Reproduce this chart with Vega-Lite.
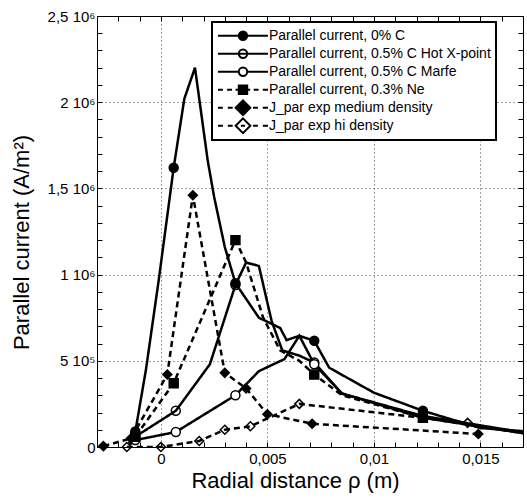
{
  "$schema": "https://vega.github.io/schema/vega-lite/v6.json",
  "width": 426,
  "height": 431,
  "autosize": "none",
  "padding": {"left": 97, "top": 16, "right": 4, "bottom": 54},
  "background": "white",
  "config": {
    "font": "Liberation Sans",
    "view": {"stroke": "black", "strokeWidth": 1},
    "axis": {
      "domainColor": "black",
      "tickColor": "black",
      "labelColor": "black",
      "titleColor": "black",
      "labelFont": "Liberation Sans",
      "titleFont": "Liberation Sans",
      "labelFontSize": 15,
      "titleFontSize": 22,
      "titleFontWeight": "normal",
      "tickSize": -5,
      "gridColor": "#444",
      "gridDash": [1, 3],
      "gridWidth": 1
    },
    "legend": {
      "orient": "none",
      "legendX": 115,
      "legendY": 6,
      "padding": 5,
      "strokeColor": "black",
      "fillColor": "white",
      "strokeWidth": 2,
      "labelFont": "Liberation Sans",
      "labelFontSize": 14,
      "labelColor": "black",
      "symbolSize": 196,
      "labelOffset": 36,
      "rowPadding": 0,
      "clipHeight": 17.5,
      "symbolStrokeColor": "black",
      "symbolStrokeWidth": 2,
      "symbolOpacity": 1,
      "labelLimit": 400
    }
  },
  "datasets": {
    "curves": [
      {"series": "Parallel current, 0% C", "x": -0.0015, "y": 30000},
      {"series": "Parallel current, 0% C", "x": -0.0012, "y": 90000},
      {"series": "Parallel current, 0% C", "x": -0.0007, "y": 450000},
      {"series": "Parallel current, 0% C", "x": -0.0001, "y": 970000},
      {"series": "Parallel current, 0% C", "x": 0.0006, "y": 1620000},
      {"series": "Parallel current, 0% C", "x": 0.0011, "y": 2020000},
      {"series": "Parallel current, 0% C", "x": 0.0016, "y": 2200000},
      {"series": "Parallel current, 0% C", "x": 0.0022, "y": 1660000},
      {"series": "Parallel current, 0% C", "x": 0.0025, "y": 1450000},
      {"series": "Parallel current, 0% C", "x": 0.003, "y": 1160000},
      {"series": "Parallel current, 0% C", "x": 0.0035, "y": 950000},
      {"series": "Parallel current, 0% C", "x": 0.0046, "y": 750000},
      {"series": "Parallel current, 0% C", "x": 0.0056, "y": 690000},
      {"series": "Parallel current, 0% C", "x": 0.0059, "y": 620000},
      {"series": "Parallel current, 0% C", "x": 0.0065, "y": 645000},
      {"series": "Parallel current, 0% C", "x": 0.0072, "y": 616000},
      {"series": "Parallel current, 0% C", "x": 0.0079, "y": 460000},
      {"series": "Parallel current, 0% C", "x": 0.01, "y": 315000},
      {"series": "Parallel current, 0% C", "x": 0.0123, "y": 210000},
      {"series": "Parallel current, 0% C", "x": 0.015, "y": 110000},
      {"series": "Parallel current, 0% C", "x": 0.017, "y": 92000},
      {"series": "Parallel current, 0.5% C Hot X-point", "x": -0.0015, "y": 20000},
      {"series": "Parallel current, 0.5% C Hot X-point", "x": -0.0012, "y": 60000},
      {"series": "Parallel current, 0.5% C Hot X-point", "x": 0.0007, "y": 210000},
      {"series": "Parallel current, 0.5% C Hot X-point", "x": 0.0023, "y": 480000},
      {"series": "Parallel current, 0.5% C Hot X-point", "x": 0.0035, "y": 940000},
      {"series": "Parallel current, 0.5% C Hot X-point", "x": 0.004, "y": 1070000},
      {"series": "Parallel current, 0.5% C Hot X-point", "x": 0.0046, "y": 1050000},
      {"series": "Parallel current, 0.5% C Hot X-point", "x": 0.0052, "y": 730000},
      {"series": "Parallel current, 0.5% C Hot X-point", "x": 0.0057, "y": 560000},
      {"series": "Parallel current, 0.5% C Hot X-point", "x": 0.0065, "y": 530000},
      {"series": "Parallel current, 0.5% C Hot X-point", "x": 0.0072, "y": 490000},
      {"series": "Parallel current, 0.5% C Hot X-point", "x": 0.0085, "y": 310000},
      {"series": "Parallel current, 0.5% C Hot X-point", "x": 0.0123, "y": 180000},
      {"series": "Parallel current, 0.5% C Hot X-point", "x": 0.017, "y": 85000},
      {"series": "Parallel current, 0.5% C Marfe", "x": -0.0015, "y": 10000},
      {"series": "Parallel current, 0.5% C Marfe", "x": -0.0012, "y": 40000},
      {"series": "Parallel current, 0.5% C Marfe", "x": 0.0007, "y": 87000},
      {"series": "Parallel current, 0.5% C Marfe", "x": 0.0035, "y": 300000},
      {"series": "Parallel current, 0.5% C Marfe", "x": 0.0046, "y": 440000},
      {"series": "Parallel current, 0.5% C Marfe", "x": 0.0058, "y": 510000},
      {"series": "Parallel current, 0.5% C Marfe", "x": 0.0065, "y": 645000},
      {"series": "Parallel current, 0.5% C Marfe", "x": 0.0072, "y": 480000},
      {"series": "Parallel current, 0.5% C Marfe", "x": 0.0085, "y": 310000},
      {"series": "Parallel current, 0.5% C Marfe", "x": 0.0123, "y": 170000},
      {"series": "Parallel current, 0.5% C Marfe", "x": 0.017, "y": 80000},
      {"series": "Parallel current, 0.3% Ne", "x": -0.0015, "y": 20000},
      {"series": "Parallel current, 0.3% Ne", "x": -0.0012, "y": 60000},
      {"series": "Parallel current, 0.3% Ne", "x": 0.0006, "y": 370000},
      {"series": "Parallel current, 0.3% Ne", "x": 0.0035, "y": 1200000},
      {"series": "Parallel current, 0.3% Ne", "x": 0.004, "y": 1070000},
      {"series": "Parallel current, 0.3% Ne", "x": 0.0048, "y": 750000},
      {"series": "Parallel current, 0.3% Ne", "x": 0.0056, "y": 560000},
      {"series": "Parallel current, 0.3% Ne", "x": 0.0065, "y": 500000},
      {"series": "Parallel current, 0.3% Ne", "x": 0.0072, "y": 420000},
      {"series": "Parallel current, 0.3% Ne", "x": 0.0085, "y": 300000},
      {"series": "Parallel current, 0.3% Ne", "x": 0.0123, "y": 170000},
      {"series": "Parallel current, 0.3% Ne", "x": 0.017, "y": 80000},
      {"series": "J_par exp medium density", "x": -0.0027, "y": 5000},
      {"series": "J_par exp medium density", "x": -0.0014, "y": 50000},
      {"series": "J_par exp medium density", "x": 0.0003, "y": 420000},
      {"series": "J_par exp medium density", "x": 0.0015, "y": 1460000},
      {"series": "J_par exp medium density", "x": 0.003, "y": 430000},
      {"series": "J_par exp medium density", "x": 0.004, "y": 340000},
      {"series": "J_par exp medium density", "x": 0.005, "y": 190000},
      {"series": "J_par exp medium density", "x": 0.0071, "y": 135000},
      {"series": "J_par exp medium density", "x": 0.0149, "y": 75000},
      {"series": "J_par exp hi density", "x": -0.0016, "y": 0},
      {"series": "J_par exp hi density", "x": 0.0, "y": 0},
      {"series": "J_par exp hi density", "x": 0.0018, "y": 35000},
      {"series": "J_par exp hi density", "x": 0.003, "y": 100000},
      {"series": "J_par exp hi density", "x": 0.0042, "y": 120000},
      {"series": "J_par exp hi density", "x": 0.0065, "y": 250000},
      {"series": "J_par exp hi density", "x": 0.0144, "y": 140000}
    ],
    "markers": [
      {"series": "Parallel current, 0% C", "x": -0.0012, "y": 90000},
      {"series": "Parallel current, 0% C", "x": 0.0006, "y": 1620000},
      {"series": "Parallel current, 0% C", "x": 0.0035, "y": 950000},
      {"series": "Parallel current, 0% C", "x": 0.0072, "y": 616000},
      {"series": "Parallel current, 0% C", "x": 0.0123, "y": 210000},
      {"series": "Parallel current, 0.5% C Hot X-point", "x": -0.0012, "y": 60000},
      {"series": "Parallel current, 0.5% C Hot X-point", "x": 0.0007, "y": 210000},
      {"series": "Parallel current, 0.5% C Hot X-point", "x": 0.0035, "y": 940000},
      {"series": "Parallel current, 0.5% C Hot X-point", "x": 0.0072, "y": 490000},
      {"series": "Parallel current, 0.5% C Hot X-point", "x": 0.0123, "y": 180000},
      {"series": "Parallel current, 0.5% C Marfe", "x": -0.0012, "y": 40000},
      {"series": "Parallel current, 0.5% C Marfe", "x": 0.0007, "y": 87000},
      {"series": "Parallel current, 0.5% C Marfe", "x": 0.0035, "y": 300000},
      {"series": "Parallel current, 0.5% C Marfe", "x": 0.0072, "y": 480000},
      {"series": "Parallel current, 0.5% C Marfe", "x": 0.0123, "y": 170000},
      {"series": "Parallel current, 0.3% Ne", "x": -0.0012, "y": 60000},
      {"series": "Parallel current, 0.3% Ne", "x": 0.0006, "y": 370000},
      {"series": "Parallel current, 0.3% Ne", "x": 0.0035, "y": 1200000},
      {"series": "Parallel current, 0.3% Ne", "x": 0.0072, "y": 420000},
      {"series": "Parallel current, 0.3% Ne", "x": 0.0123, "y": 170000},
      {"series": "J_par exp medium density", "x": -0.0027, "y": 5000},
      {"series": "J_par exp medium density", "x": -0.0014, "y": 50000},
      {"series": "J_par exp medium density", "x": 0.0003, "y": 420000},
      {"series": "J_par exp medium density", "x": 0.0015, "y": 1460000},
      {"series": "J_par exp medium density", "x": 0.003, "y": 430000},
      {"series": "J_par exp medium density", "x": 0.004, "y": 340000},
      {"series": "J_par exp medium density", "x": 0.005, "y": 190000},
      {"series": "J_par exp medium density", "x": 0.0071, "y": 135000},
      {"series": "J_par exp medium density", "x": 0.0149, "y": 75000},
      {"series": "J_par exp hi density", "x": -0.0016, "y": 0},
      {"series": "J_par exp hi density", "x": 0.0, "y": 0},
      {"series": "J_par exp hi density", "x": 0.0018, "y": 35000},
      {"series": "J_par exp hi density", "x": 0.003, "y": 100000},
      {"series": "J_par exp hi density", "x": 0.0042, "y": 120000},
      {"series": "J_par exp hi density", "x": 0.0065, "y": 250000},
      {"series": "J_par exp hi density", "x": 0.0144, "y": 140000}
    ]
  },
  "layer": [
    {
      "data": {"name": "curves"},
      "mark": {"type": "line", "color": "black", "strokeWidth": 2.5, "clip": true},
      "encoding": {
        "x": {
          "field": "x", "type": "quantitative",
          "scale": {"domain": [-0.003, 0.017], "nice": false, "zero": false},
          "axis": {
            "orient": "bottom",
            "title": "Radial distance ρ (m)",
            "titlePadding": 4,
            "titleX": 198,
            "values": [-0.003, -0.002, -0.001, 0, 0.001, 0.002, 0.003, 0.004, 0.005, 0.006, 0.007, 0.008, 0.009, 0.01, 0.011, 0.012, 0.013, 0.014, 0.015, 0.016, 0.017],
            "labelExpr": "datum.value == 0 ? '0' : datum.value == 0.005 ? '0,005' : datum.value == 0.01 ? '0,01' : datum.value == 0.015 ? '0,015' : ''",
            "labelOverlap": false,
            "labelPadding": 9,
            "grid": true,
            "gridOpacity": {"condition": {"test": "abs(datum.value*200 - round(datum.value*200)) < 0.001", "value": 1}, "value": 0}
          }
        },
        "y": {
          "field": "y", "type": "quantitative",
          "scale": {"domain": [0, 2500000], "nice": false},
          "axis": {
            "orient": "left",
            "title": "Parallel current (A/m²)",
            "titleX": -64,
            "titleY": 226,
            "titleBaseline": "bottom",
            "titleAngle": 270,
            "values": [0, 100000, 200000, 300000, 400000, 500000, 600000, 700000, 800000, 900000, 1000000, 1100000, 1200000, 1300000, 1400000, 1500000, 1600000, 1700000, 1800000, 1900000, 2000000, 2100000, 2200000, 2300000, 2400000, 2500000],
            "labelExpr": "datum.value == 0 ? '0' : datum.value == 500000 ? '5 10⁵' : datum.value == 1000000 ? '1 10⁶' : datum.value == 1500000 ? '1,5 10⁶' : datum.value == 2000000 ? '2 10⁶' : datum.value == 2500000 ? '2,5 10⁶' : ''",
            "labelOverlap": false,
            "labelPadding": 7,
            "grid": true,
            "gridOpacity": {"condition": {"test": "abs(datum.value/500000 - round(datum.value/500000)) < 0.001 && datum.value > 0 && datum.value < 2500000", "value": 1}, "value": 0}
          }
        },
        "detail": {"field": "series"},
        "strokeDash": {
          "field": "series", "type": "nominal",
          "scale": {
            "domain": ["Parallel current, 0% C", "Parallel current, 0.5% C Hot X-point", "Parallel current, 0.5% C Marfe", "Parallel current, 0.3% Ne", "J_par exp medium density", "J_par exp hi density"],
            "range": [[1, 0], [1, 0], [1, 0], [6, 4], [6, 4], [6, 4]]
          },
          "legend": null
        }
      }
    },
    {
      "data": {"name": "markers"},
      "mark": {"type": "point", "stroke": "black", "strokeWidth": 1.5, "opacity": 1, "filled": false},
      "encoding": {
        "x": {
          "field": "x", "type": "quantitative",
          "axis": {"orient": "top", "title": null, "labels": false, "grid": false,
            "values": [-0.003, -0.002, -0.001, 0, 0.001, 0.002, 0.003, 0.004, 0.005, 0.006, 0.007, 0.008, 0.009, 0.01, 0.011, 0.012, 0.013, 0.014, 0.015, 0.016, 0.017]}
        },
        "y": {
          "field": "y", "type": "quantitative",
          "axis": {"orient": "right", "title": null, "labels": false, "grid": false,
            "values": [0, 100000, 200000, 300000, 400000, 500000, 600000, 700000, 800000, 900000, 1000000, 1100000, 1200000, 1300000, 1400000, 1500000, 1600000, 1700000, 1800000, 1900000, 2000000, 2100000, 2200000, 2300000, 2400000, 2500000]}
        },
        "shape": {
          "field": "series", "type": "nominal",
          "scale": {
            "domain": ["Parallel current, 0% C", "Parallel current, 0.5% C Hot X-point", "Parallel current, 0.5% C Marfe", "Parallel current, 0.3% Ne", "J_par exp medium density", "J_par exp hi density"],
            "range": ["circle", "circle", "circle", "square", "diamond", "diamond"]
          },
          "legend": null
        },
        "fill": {
          "field": "series", "type": "nominal",
          "scale": {
            "domain": ["Parallel current, 0% C", "Parallel current, 0.5% C Hot X-point", "Parallel current, 0.5% C Marfe", "Parallel current, 0.3% Ne", "J_par exp medium density", "J_par exp hi density"],
            "range": ["black", "transparent", "white", "black", "black", "transparent"]
          },
          "legend": null
        },
        "size": {
          "field": "series", "type": "nominal",
          "scale": {
            "domain": ["Parallel current, 0% C", "Parallel current, 0.5% C Hot X-point", "Parallel current, 0.5% C Marfe", "Parallel current, 0.3% Ne", "J_par exp medium density", "J_par exp hi density"],
            "range": [80, 80, 80, 110, 270, 230]
          },
          "legend": null
        }
      }
    },
    {
      "data": {"name": "markers"},
      "mark": {"type": "point", "opacity": 0, "stroke": "black", "strokeWidth": 2, "filled": false},
      "encoding": {
        "x": {"field": "x", "type": "quantitative", "axis": null},
        "y": {"field": "y", "type": "quantitative", "axis": null},
        "shape": {
          "field": "series", "type": "nominal",
          "scale": {
            "domain": ["Parallel current, 0% C", "Parallel current, 0.5% C Hot X-point", "Parallel current, 0.5% C Marfe", "Parallel current, 0.3% Ne", "J_par exp medium density", "J_par exp hi density"],
            "range": [
              "M-1,0H6.14M3.17,0A0.6,0.6,0,1,1,1.97,0A0.6,0.6,0,1,1,3.17,0Z",
              "M-1,0H6.14M3.17,0A0.6,0.6,0,1,1,1.97,0A0.6,0.6,0,1,1,3.17,0Z",
              "M-1,0H1.97M3.17,0H6.14M3.17,0A0.6,0.6,0,1,1,1.97,0A0.6,0.6,0,1,1,3.17,0Z",
              "M-1,0H-0.3M0.3,0H1.0M1.5,0H1.97M1.97,-0.62H3.17V0.62H1.97ZM3.17,0H3.6M4.1,0H4.8M5.4,0H6.14",
              "M-1,0H-0.3M0.4,0H1.1M2.57,-1.05L3.62,0L2.57,1.05L1.52,0ZM4.0,0H4.7M5.4,0H6.14",
              "M-1,0H-0.3M0.4,0H1.1M2.57,-1.05L3.62,0L2.57,1.05L1.52,0ZM2.27,0H2.87M4.0,0H4.7M5.4,0H6.14"
            ]
          },
          "legend": {
            "title": null,
            "encode": {"symbols": {"update": {"stroke": {"value": "black"}, "strokeWidth": {"value": 2}, "opacity": {"value": 1}, "strokeOpacity": {"value": 1}}}}
          }
        },
        "fill": {
          "field": "series", "type": "nominal",
          "scale": {
            "domain": ["Parallel current, 0% C", "Parallel current, 0.5% C Hot X-point", "Parallel current, 0.5% C Marfe", "Parallel current, 0.3% Ne", "J_par exp medium density", "J_par exp hi density"],
            "range": ["black", "white", "white", "black", "black", "white"]
          },
          "legend": {
            "title": null,
            "encode": {"symbols": {"update": {"stroke": {"value": "black"}, "strokeWidth": {"value": 2}, "opacity": {"value": 1}, "strokeOpacity": {"value": 1}}}}
          }
        }
      }
    }
  ],
  "resolve": {
    "scale": {"shape": "independent", "fill": "independent", "size": "independent", "strokeDash": "independent"},
    "axis": {"x": "independent", "y": "independent"},
    "legend": {"shape": "independent", "fill": "independent"}
  }
}
